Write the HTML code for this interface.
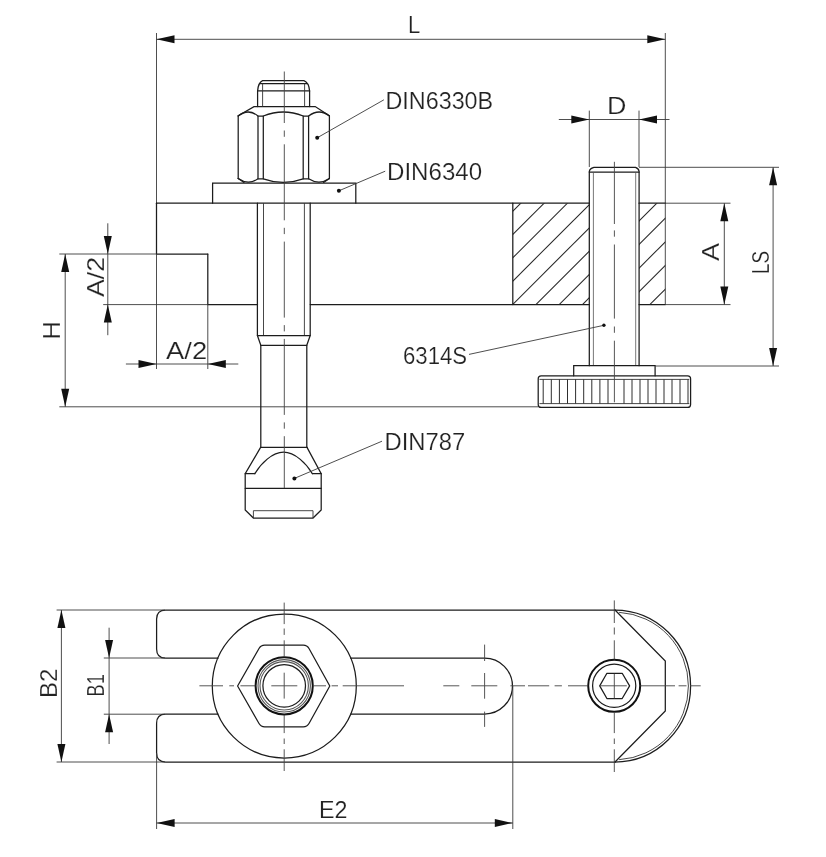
<!DOCTYPE html>
<html><head><meta charset="utf-8"><title>Clamp drawing</title>
<style>
html,body{margin:0;padding:0;background:#fff;}
body{width:826px;height:857px;overflow:hidden;font-family:"Liberation Sans",sans-serif;}
svg{display:block;will-change:transform;}
svg text{font-family:"Liberation Sans",sans-serif;fill:#222;stroke:#fff;stroke-width:0.2px;}
.o{stroke:#1c1c1c;stroke-width:1.25;fill:none;stroke-linecap:round;}
.o2{stroke:#333;stroke-width:0.9;fill:none;}
.t{stroke:#3a3a3a;stroke-width:0.9;fill:none;}
.h{stroke:#262626;stroke-width:1.05;fill:none;}
.k{stroke:#2e2e2e;stroke-width:1;fill:none;}
.g{stroke:#555;stroke-width:1.1;fill:none;}
.thick{stroke:#111;stroke-width:2;fill:none;}
.cl{stroke:#444;stroke-width:0.9;fill:none;}
.g2{stroke:#555;stroke-width:0.8;fill:none;}
.c{stroke:#3a3a3a;stroke-width:0.9;fill:none;stroke-dasharray:22 4 4 4;}
.ar{fill:#111;stroke:none;}
.dot{fill:#111;}
</style></head>
<body>
<svg width="826" height="857" viewBox="0 0 826 857">
<defs><clipPath id="h1"><rect x="512.8" y="203.2" width="76.5" height="101.4"/></clipPath><clipPath id="h2"><rect x="639" y="203.2" width="26.3" height="101.4"/></clipPath></defs>
<rect width="826" height="857" fill="#fff"/>
<line class="t" x1="156.5" y1="33" x2="156.5" y2="203"/>
<line class="t" x1="665.3" y1="33" x2="665.3" y2="304.5"/>
<line class="t" x1="156.5" y1="39.3" x2="665.3" y2="39.3"/>
<polygon class="ar" points="156.5,39.3 174.50,35.30 174.50,43.30"/>
<polygon class="ar" points="665.3,39.3 647.30,43.30 647.30,35.30"/>
<line class="o" x1="156.5" y1="203.2" x2="589.3" y2="203.2"/>
<line class="o" x1="639" y1="203.2" x2="665.3" y2="203.2"/>
<line class="o" x1="156.5" y1="203.2" x2="156.5" y2="254"/>
<line class="o" x1="156.5" y1="254" x2="207.8" y2="254"/>
<line class="o" x1="207.8" y1="254" x2="207.8" y2="304.6"/>
<line class="o" x1="207.8" y1="304.6" x2="257.5" y2="304.6"/>
<line class="o" x1="310.2" y1="304.6" x2="589.3" y2="304.6"/>
<line class="o" x1="639" y1="304.6" x2="665.3" y2="304.6"/>
<line class="t" x1="59.3" y1="254" x2="156.5" y2="254"/>
<line class="t" x1="103.2" y1="304.6" x2="207.8" y2="304.6"/>
<line class="t" x1="156.5" y1="254" x2="156.5" y2="369"/>
<line class="t" x1="207.8" y1="304.6" x2="207.8" y2="369"/>
<line class="t" x1="59.3" y1="406.8" x2="245" y2="406.8"/>
<line class="t" x1="245" y1="406.8" x2="538.3" y2="406.8"/>
<line class="t" x1="65.2" y1="254" x2="65.2" y2="406.8"/>
<polygon class="ar" points="65.2,254 69.20,272.00 61.20,272.00"/>
<polygon class="ar" points="65.2,406.8 61.20,388.80 69.20,388.80"/>
<line class="t" x1="107.8" y1="223.3" x2="107.8" y2="335.2"/>
<polygon class="ar" points="107.8,254 103.80,236.00 111.80,236.00"/>
<polygon class="ar" points="107.8,304.6 111.80,322.60 103.80,322.60"/>
<line class="t" x1="125.9" y1="364" x2="238.3" y2="364"/>
<polygon class="ar" points="156.5,364 138.50,368.00 138.50,360.00"/>
<polygon class="ar" points="207.8,364 225.80,360.00 225.80,368.00"/>
<path class="o" d="M212.6 203.2V183H355.8V203.2" />
<path class="o" d="M238.2 115.8V178.6 M329.4 115.8V178.6" />
<path class="o" d="M238.2 115.8L254 106.6H315.2L329.4 115.8" />
<path class="o" d="M238.2 116Q248.3 108 258 116H263.3Q283.3 108 303.2 116H308.6Q319.2 108 329.4 116" />
<path class="o" d="M258 116V178.8 M263.3 116V178.8 M303.2 116V178.8 M308.6 116V178.8" />
<path class="o" d="M238.2 178.6Q248.3 185.6 258 178.8H263.3Q283.3 186 303.2 178.8H308.6Q319.2 185.6 329.4 178.6" />
<path class="o" d="M238.2 178.6L244 182.4 M329.4 178.6L323.6 182.4" />
<path class="o" d="M257.6 106.6V90.9Q258.3 82.5 262.6 80.7H303.9Q308.8 82.5 309.6 90.9V106.6" />
<path class="o" d="M260.4 83.7H306.6 M257.6 90.9H309.6" />
<path class="o2" d="M262.6 83.7V106.6 M304.6 83.7V106.6" />
<path class="o" d="M257.4 203.2V335.5 M310.2 203.2V335.5" />
<path class="o2" d="M263.5 203.2V335.5 M304.4 203.2V335.5" />
<path class="o" d="M257.4 335.5H310.2 M257.4 335.5L260.8 345.3 M310.2 335.5L306.8 345.3 M260.8 345.3H306.8" />
<path class="o" d="M260.8 345.3V447.4 M306.8 345.3V447.4" />
<path class="o" d="M260.6 447.4H307" />
<path class="o" d="M260.6 447.4L245.2 473.7V510L253.4 518H313L321.2 510V473.7L307 447.4" />
<path class="o" d="M245.2 473.7H254.8 M321.2 473.7H312.4" />
<path class="o" d="M254.8 473.7C260.8 463.5 272.3 452.2 283.6 452.2C294.9 452.2 306.4 463.5 312.4 473.7" />
<path class="o" d="M245.2 488.3H321.2" />
<path class="o2" d="M253.4 510.7H313 M253.4 510.7V518 M313 510.7V518" />
<path class="cl" d="M284.3 71.5V123 M284.3 130.5V136.8 M284.3 144.3V220.3 M284.3 227.8V234.1 M284.3 241.6V317.6 M284.3 325.1V331.4 M284.3 338.9V414.9 M284.3 422.4V428.7 M284.3 436.2V488" />
<line class="t" x1="317.2" y1="137.8" x2="383.9" y2="99.8"/>
<circle class="dot" cx="317.2" cy="137.8" r="2"/>
<line class="t" x1="338.9" y1="190.8" x2="385.2" y2="171.2"/>
<circle class="dot" cx="338.9" cy="190.8" r="2"/>
<line class="t" x1="294.4" y1="478.4" x2="382" y2="441.2"/>
<circle class="dot" cx="294.4" cy="478.4" r="2"/>
<g clip-path="url(#h1)">
<line class="h" x1="374.0" y1="350" x2="574.0" y2="150"/>
<line class="h" x1="397.29999999999995" y1="350" x2="597.3" y2="150"/>
<line class="h" x1="420.5999999999999" y1="350" x2="620.5999999999999" y2="150"/>
<line class="h" x1="443.89999999999986" y1="350" x2="643.8999999999999" y2="150"/>
<line class="h" x1="467.1999999999998" y1="350" x2="667.1999999999998" y2="150"/>
<line class="h" x1="490.4999999999998" y1="350" x2="690.4999999999998" y2="150"/>
<line class="h" x1="513.7999999999997" y1="350" x2="713.7999999999997" y2="150"/>
<line class="h" x1="537.0999999999997" y1="350" x2="737.0999999999997" y2="150"/>
</g>
<g clip-path="url(#h2)">
<line class="h" x1="510.0" y1="350" x2="710.0" y2="150"/>
<line class="h" x1="533.6" y1="350" x2="733.6" y2="150"/>
<line class="h" x1="557.2" y1="350" x2="757.2" y2="150"/>
<line class="h" x1="580.8000000000001" y1="350" x2="780.8000000000001" y2="150"/>
<line class="h" x1="604.4000000000001" y1="350" x2="804.4000000000001" y2="150"/>
<line class="h" x1="628.0000000000001" y1="350" x2="828.0000000000001" y2="150"/>
</g>
<line class="o" x1="512.8" y1="203.2" x2="512.8" y2="304.6"/>
<path class="o" d="M589.3 365.7V171.5Q589.6 168.6 593.9 167.4H635.5Q638.8 168.6 639.1 171.5V365.7" />
<path class="o" d="M589.3 172H639.1" />
<path class="g2" d="M593.4 172V365.7 M635.7 172V365.7" />
<path class="o" d="M573.7 375.8V365.7H655.1V375.8" />
<path class="o" d="M541.2 375.8H687.6Q690.6 375.8 690.6 378.8V404.4Q690.6 407.4 687.6 407.4H541.2Q538.2 407.4 538.2 404.4V378.8Q538.2 375.8 541.2 375.8Z" />
<path class="o2" d="M539.5 379.4H689.3 M539.5 403.6H689.3" />
<path class="k" d="M543.2 379.4V403.6 M624.0 379.4V403.6 M551.3 379.4V403.6 M632.0 379.4V403.6 M559.4 379.4V403.6 M640.0 379.4V403.6 M567.5 379.4V403.6 M648.0 379.4V403.6 M575.6 379.4V403.6 M656.0 379.4V403.6 M583.7 379.4V403.6 M664.0 379.4V403.6 M591.8 379.4V403.6 M672.0 379.4V403.6 M599.9 379.4V403.6 M680.0 379.4V403.6 M608.0 379.4V403.6 M688.0 379.4V403.6 " />
<path class="cl" d="M614.4 161.8V224 M614.4 230.4V236.7 M614.4 244.5V318.6 M614.4 326.5V332.8 M614.4 340.7V402.3" />
<line class="t" x1="589.3" y1="110.6" x2="589.3" y2="167"/>
<line class="t" x1="639" y1="110.6" x2="639" y2="167"/>
<line class="t" x1="558.8" y1="119.5" x2="669.5" y2="119.5"/>
<polygon class="ar" points="589.3,119.5 571.30,123.50 571.30,115.50"/>
<polygon class="ar" points="639,119.5 657.00,115.50 657.00,123.50"/>
<line class="t" x1="665.3" y1="203.2" x2="730.5" y2="203.2"/>
<line class="t" x1="665.3" y1="304.6" x2="730.5" y2="304.6"/>
<line class="t" x1="724.3" y1="203.2" x2="724.3" y2="304.6"/>
<polygon class="ar" points="724.3,203.2 728.30,221.20 720.30,221.20"/>
<polygon class="ar" points="724.3,304.6 720.30,286.60 728.30,286.60"/>
<line class="t" x1="639" y1="167.3" x2="779" y2="167.3"/>
<line class="t" x1="655.1" y1="366" x2="779" y2="366"/>
<line class="t" x1="773.1" y1="167.3" x2="773.1" y2="366"/>
<polygon class="ar" points="773.1,167.3 777.10,185.30 769.10,185.30"/>
<polygon class="ar" points="773.1,366 769.10,348.00 777.10,348.00"/>
<line class="t" x1="469" y1="354.4" x2="603.9" y2="325.3"/>
<circle class="dot" cx="603.9" cy="325.3" r="1.7"/>
<path class="o" d="M615 610H165.6Q156.6 610 156.6 619V649Q156.6 658.2 165.6 658.2H218" />
<path class="o" d="M615 762H165.6Q156.6 762 156.6 753V723.2Q156.6 714 165.6 714H218" />
<path class="o" d="M350.6 658.2H484.6A27.9 27.9 0 0 1 484.6 714H350.6" />
<path class="o" d="M615 610L665.3 661V711L615 762" />
<path class="o" d="M614.6 610A76 76 0 0 1 690.6 686A76 76 0 0 1 614.6 762" />
<path class="o2" d="M619.11 612.34A73.8 73.8 0 0 1 688.40 686A73.8 73.8 0 0 1 619.11 759.66" />
<circle class="o" cx="284.3" cy="686" r="72"/>
<path class="o" d="M237.6 686L259 648.5Q260.9 645.2 264.7 645.2H303.3Q307.1 645.2 309 648.5L329.8 686L309 723.5Q307.1 726.8 303.3 726.8H264.7Q260.9 726.8 259 723.5Z" stroke-linejoin="round"/>
<circle class="thick" cx="284.2" cy="685.8" r="28.6"/>
<circle class="g" cx="284.2" cy="685.8" r="26.2"/>
<circle class="g" cx="284.2" cy="685.8" r="24.2"/>
<circle class="o" cx="284.2" cy="685.8" r="21.3"/>
<circle class="thick" cx="614.2" cy="685.8" r="26"/>
<circle class="o" cx="614.2" cy="685.8" r="21.6"/>
<path class="o" d="M599.7 685.9L606.9 673.3H622.2L629.6 685.9L622.2 698.5H606.9Z" stroke-linejoin="round"/>
<path class="cl" d="M199.4 685.8H223 M229.3 685.8H234 M240.4 685.8H255.3 M271.3 685.8H297.3 M313.3 685.8H326 M331.6 685.8H338 M342.7 685.8H404 M443.3 685.8H459.3 M471.3 685.8H497.3 M510.4 685.8H525 M528 685.8H549.2 M554.6 685.8H561.9 M568 685.8H588 M599.8 685.8H626.8 M640.4 685.8H675 M678.6 685.8H686.5 M690 685.8H700.7" />
<path class="cl" d="M284.2 602.6V624.1 M284.2 628.5V634.9 M284.2 640.3V657 M284.2 672.7V698.6 M284.2 715V733.1 M284.2 738.5V744 M284.2 749.3V771" />
<path class="cl" d="M614.3 600.4V623 M614.3 627.5V634.5 M614.3 640.3V659.5 M614.3 673.8V698.4 M614.3 712.5V733.1 M614.3 738.5V744 M614.3 749.3V772" />
<path class="cl" d="M484.6 644.6V661 M484.6 673V698.7 M484.6 711.6V726.9" />
<line class="t" x1="56.6" y1="610" x2="165" y2="610"/>
<line class="t" x1="56.6" y1="762" x2="165" y2="762"/>
<line class="t" x1="61.4" y1="610" x2="61.4" y2="762"/>
<polygon class="ar" points="61.4,610 65.40,628.00 57.40,628.00"/>
<polygon class="ar" points="61.4,762 57.40,744.00 65.40,744.00"/>
<line class="t" x1="103.8" y1="658" x2="165" y2="658"/>
<line class="t" x1="103.8" y1="714.2" x2="165" y2="714.2"/>
<line class="t" x1="109.1" y1="627.7" x2="109.1" y2="744"/>
<polygon class="ar" points="109.1,658 105.10,640.00 113.10,640.00"/>
<polygon class="ar" points="109.1,714.2 113.10,732.20 105.10,732.20"/>
<line class="t" x1="156.6" y1="753" x2="156.6" y2="829"/>
<line class="t" x1="512.8" y1="686" x2="512.8" y2="829"/>
<line class="t" x1="156.6" y1="823" x2="512.8" y2="823"/>
<polygon class="ar" points="156.6,823 174.60,819.00 174.60,827.00"/>
<polygon class="ar" points="512.8,823 494.80,827.00 494.80,819.00"/>
<text x="408.0" y="33" font-size="24" text-anchor="start" textLength="12.28" lengthAdjust="spacingAndGlyphs">L</text>
<text x="607.0" y="114" font-size="24" text-anchor="start" textLength="19.41" lengthAdjust="spacingAndGlyphs">D</text>
<text x="385.5" y="109.0" font-size="24" text-anchor="start" textLength="107.64" lengthAdjust="spacingAndGlyphs">DIN6330B</text>
<text x="387.0" y="180" font-size="24" text-anchor="start" textLength="95.11" lengthAdjust="spacingAndGlyphs">DIN6340</text>
<text x="384.5" y="450" font-size="24" text-anchor="start" textLength="80.65" lengthAdjust="spacingAndGlyphs">DIN787</text>
<text x="403.0" y="364.0" font-size="24" text-anchor="start" textLength="64.14" lengthAdjust="spacingAndGlyphs">6314S</text>
<text x="719.0" y="261.0" font-size="24" text-anchor="start" transform="rotate(-90 719.0 261.0)" textLength="18.09" lengthAdjust="spacingAndGlyphs">A</text>
<text x="769.0" y="274.0" font-size="24" text-anchor="start" transform="rotate(-90 769.0 274.0)" textLength="23.23" lengthAdjust="spacingAndGlyphs">LS</text>
<text x="59.5" y="339.5" font-size="24" text-anchor="start" transform="rotate(-90 59.5 339.5)" textLength="18.46" lengthAdjust="spacingAndGlyphs">H</text>
<text x="104.0" y="297.0" font-size="24" text-anchor="start" transform="rotate(-90 104.0 297.0)" textLength="40.1" lengthAdjust="spacingAndGlyphs">A/2</text>
<text x="166.0" y="359.0" font-size="24" text-anchor="start" textLength="41.12" lengthAdjust="spacingAndGlyphs">A/2</text>
<text x="57.0" y="698" font-size="24" text-anchor="start" transform="rotate(-90 57.0 698)" textLength="29.41" lengthAdjust="spacingAndGlyphs">B2</text>
<text x="104.0" y="696.5" font-size="24" text-anchor="start" transform="rotate(-90 104.0 696.5)" textLength="22.25" lengthAdjust="spacingAndGlyphs">B1</text>
<text x="319.0" y="818.0" font-size="24" text-anchor="start" textLength="28.48" lengthAdjust="spacingAndGlyphs">E2</text>
</svg>
</body></html>
